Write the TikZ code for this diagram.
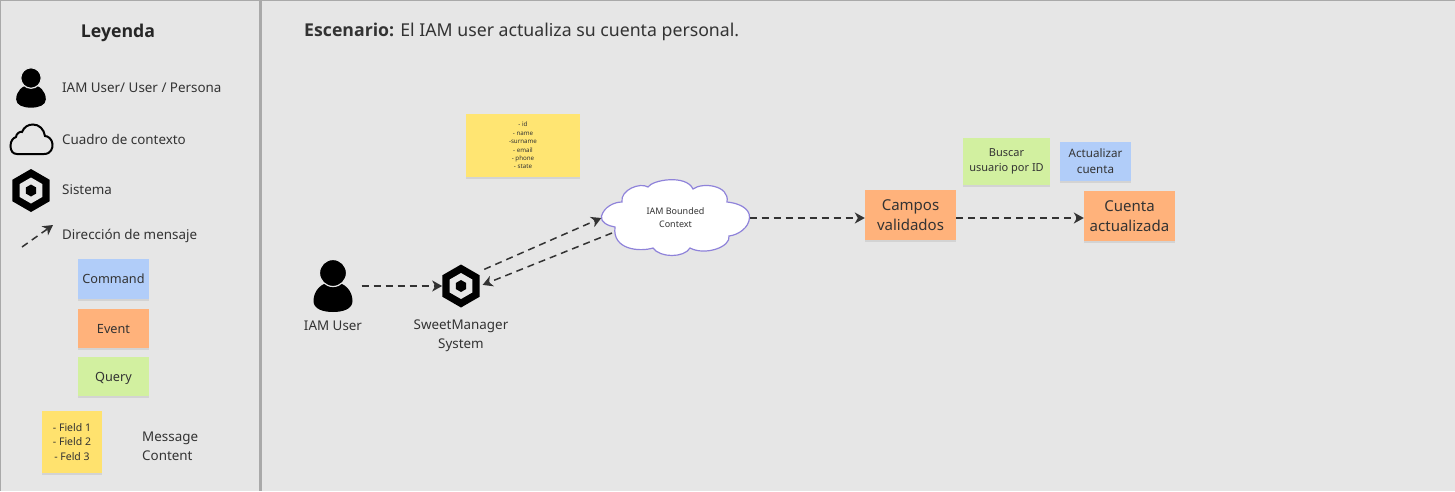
\documentclass[tikz,border=0pt]{standalone}
\usepackage{fontspec}
\setmainfont{Noto Sans}
\newfontfamily\headfont{Open Sans}[BoldFont={Open Sans Bold}]
\usetikzlibrary{arrows.meta,shadows,shapes.geometric}
\definecolor{canvasgray}{HTML}{E6E6E6}
\definecolor{framegray}{HTML}{A9A9A9}
\definecolor{inkgray}{HTML}{333333}
\definecolor{commandblue}{HTML}{B1CDF9}
\definecolor{eventorange}{HTML}{FFB27B}
\definecolor{querygreen}{HTML}{D2F0A0}
\definecolor{fieldyellow}{HTML}{FFE26E}
\definecolor{noteyellow}{HTML}{FFE572}
\definecolor{cloudpurple}{HTML}{8F83DA}
\tikzset{
    px/.style={font=\fontsize{#1}{20}\selectfont},
    legendtext/.style={px=13.4,text=inkgray,anchor=west,inner sep=0pt},
    sticky/.style={inner sep=0pt,align=center,text=inkgray,
        drop shadow={shadow xshift=0pt,shadow yshift=-1.5pt,opacity=.18}},
    legendnote/.style={sticky,minimum width=71pt,px=12.7,text height=11pt,text depth=2pt},
    message/.style={->,>={Stealth[length=10pt,width=11pt,inset=3pt]},draw=inkgray,line width=1.5pt,dash pattern=on 7pt off 5pt},
    hexa/.style={regular polygon,regular polygon sides=6,shape border rotate=30,inner sep=0pt,fill=#1},
    person/.pic={
        \fill[black] (0,9) .. controls (-12,9) and (-19.5,18) .. (-19.5,28) .. controls (-19.5,36) and (-10,39) .. (0,39)
            .. controls (10,39) and (19.5,36) .. (19.5,28) .. controls (19.5,18) and (12,9) .. (0,9) -- cycle;
        \draw[fill=black,draw=canvasgray,line width=1.2pt] (0,0) circle (13.5);
    }
}
\newcommand{\systemicon}[2]{
    \node[hexa=black,minimum size=43pt] (#1) at (#2) {};
    \node[hexa=canvasgray,minimum size=26pt] (#1hole) at (#2) {};
    \node[hexa=black,minimum size=12pt] (#1core) at (#2) {};
}
\begin{document}
\begin{tikzpicture}[x=1pt,y=-1pt]
    \useasboundingbox (0,0) rectangle (1455,491);
    \fill[canvasgray] (0,0) rectangle (1455,491);
    \draw[framegray,line width=2pt] (0,491) -- (0,0) -- (1455,0);
    \draw[framegray,line width=3pt] (260,0) -- (260,491);

    \node[px=17.7,text=black!85,inner sep=0pt] (legendtitle) at (118,32.5) {\headfont\bfseries Leyenda};
    \pic[scale=.76] at (31,78) {person};
    \node[legendtext] (legenduser) at (62,88) {IAM User/ User / Persona};
    \draw[black,line width=2pt,fill=canvasgray] (17,154) -- (44,154) .. controls (51,154) and (53,148) .. (52.5,144)
        .. controls (52,139) and (48,136) .. (45,136) .. controls (44,129) and (39,124.5) .. (33,124.5)
        .. controls (28,124.5) and (24,127) .. (22,132) .. controls (20,131) and (16,134) .. (16,137)
        .. controls (13,138) and (10.5,141) .. (10.5,146) .. controls (10.5,151) and (13,154) .. (17,154) -- cycle;
    \node[legendtext] (legendcloud) at (62,139) {Cuadro de contexto};
    \systemicon{legendsystem}{31,190.5}
    \node[legendtext] (legendsys) at (62,189.5) {Sistema};
    \coordinate (legendfrom) at (22,247);
    \coordinate (legendto) at (53,225);
    \draw[message] (legendfrom) -- (legendto);
    \node[legendtext] (legendmsg) at (62,235.5) {Dirección de mensaje};
    \node[legendnote,fill=commandblue,minimum height=40pt] (legendcommand) at (113.5,279) {Command};
    \node[legendnote,fill=eventorange,minimum height=39pt] (legendevent) at (113.5,328.5) {Event};
    \node[legendnote,fill=querygreen,minimum height=39pt] (legendquery) at (113.5,376.5) {Query};
    \node[sticky,fill=fieldyellow,minimum width=60pt,minimum height=62pt,font=\fontsize{10.5}{14.6}\selectfont] (legendfields) at (72,442) {- Field 1\\- Field 2\\- Feld 3};
    \node[legendtext,align=left,font=\fontsize{13.4}{19}\selectfont] (legendcontent) at (142,446.5) {Message\\Content};

    \node[px=17.7,text=inkgray,anchor=west,inner sep=0pt] (scenario) at (304,32) {{\headfont\bfseries Escenario:} El IAM user actualiza su cuenta personal.};

    \node[minimum width=39pt,minimum height=30pt,inner sep=0pt] (user) at (333,286) {};
    \pic at (333,273) {person};
    \node[legendtext,anchor=center] (userlabel) at (333,326) {IAM User};
    \systemicon{system}{461,286}
    \node[legendtext,anchor=north,align=center,font=\fontsize{13.4}{19}\selectfont] (systemlabel) at (461,320) {SweetManager\\System};
    \node[sticky,fill=noteyellow,minimum width=114pt,minimum height=63pt,font=\fontsize{6.2}{8.4}\selectfont] (fields) at (523,145.5) {- id\\- name\\-surname\\- email\\- phone\\- state};
    \draw[cloudpurple,fill=white,line width=1.2pt] (601.5,216) .. controls (604,207) and (614,202) .. (622,202)
        .. controls (620,190) and (640,182) .. (648,187) .. controls (652,180) and (686,174) .. (693,189)
        .. controls (702,182) and (730,185) .. (727,202) .. controls (738,203) and (750,208) .. (749.5,217.5)
        .. controls (749,228) and (738,235) .. (729,236) .. controls (731,247) and (705,256) .. (690,248)
        .. controls (684,258) and (660,258) .. (653,248) .. controls (640,252) and (612,250) .. (615,227)
        .. controls (608,226) and (600,222) .. (601.5,216) -- cycle;
    \node[minimum width=148pt,minimum height=76pt,inner sep=0pt,align=center,text=inkgray,font=\fontsize{9}{13}\selectfont] (iamcloud) at (675.5,218) {IAM Bounded\\Context};
    \coordinate (cloudout) at (612,233);
    \node[sticky,fill=eventorange,minimum width=91pt,minimum height=50pt,font=\fontsize{15}{20}\selectfont] (campos) at (910.5,215) {Campos\\validados};
    \node[sticky,fill=querygreen,minimum width=87pt,minimum height=47pt,font=\fontsize{11}{15.5}\selectfont] (buscar) at (1006.5,161.5) {Buscar\\usuario por ID};
    \node[sticky,fill=commandblue,minimum width=71pt,minimum height=39pt,font=\fontsize{11.6}{16}\selectfont] (actualizar) at (1095.5,161.5) {Actualizar\\cuenta};
    \node[sticky,fill=eventorange,minimum width=91pt,minimum height=50pt,font=\fontsize{15}{20}\selectfont] (cuenta) at (1129.5,216) {Cuenta\\actualizada};
    \coordinate (flowlevel) at (1000,218);

    \draw[message,shorten <=9pt] (user) -- (system);
    \draw[message,shorten <=9pt] (system.41) -- (iamcloud.west);
    \draw[message,shorten >=3pt] (cloudout) -- (system.east);
    \draw[message] (iamcloud.east) -- (campos.west |- iamcloud.east);
    \draw[message] (campos.east |- flowlevel) -- (cuenta.west |- flowlevel);
\end{tikzpicture}
\end{document}
